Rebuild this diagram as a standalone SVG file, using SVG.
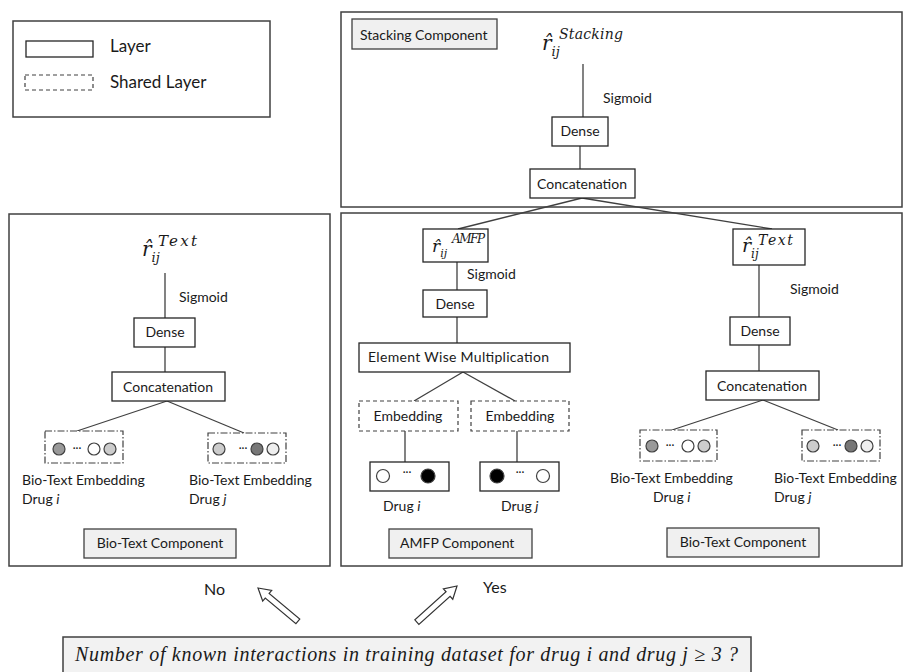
<svg xmlns="http://www.w3.org/2000/svg" width="905" height="672" viewBox="0 0 905 672">
<defs>
<style>
.frame{fill:#fff;stroke:#404040;stroke-width:1.5}
.box{fill:#fff;stroke:#262626;stroke-width:1.3}
.lbl{fill:#f0f0f0;stroke:#404040;stroke-width:1.3}
.shared{fill:#fff;stroke:#404040;stroke-width:1.2;stroke-dasharray:4 3}
.emb{fill:#fff;stroke:#404040;stroke-width:1.2;stroke-dasharray:7 2 1.5 2}
.t{font-family:Lato,"Liberation Sans",sans-serif;font-size:14px;fill:#1a1a1a}
.big{font-size:17px}
.yn{font-size:16px}
.m{font-family:"DejaVu Serif","Liberation Serif",serif;font-style:italic;fill:#1a1a1a}
.q{font-family:"Liberation Serif","DejaVu Serif",serif;font-style:italic;fill:#1a1a1a}
.c{stroke:#404040;stroke-width:1.2}
.dots{font-family:Lato,"Liberation Sans",sans-serif;font-size:11px;fill:#1a1a1a;text-anchor:middle}
.conn line{stroke:#404040;stroke-width:1.3}
.arrow{fill:#fff;stroke:#333;stroke-width:1.2;stroke-linejoin:miter}
</style>
</defs>
<rect width="905" height="672" fill="#fff"/>

<g id="legend">
<rect class="frame" x="13" y="21" width="257" height="96"/>
<rect class="box" x="26" y="41" width="67" height="16"/>
<text class="t big" x="110" y="52">Layer</text>
<rect class="shared" x="25" y="75" width="68" height="15"/>
<text class="t big" x="110" y="88">Shared Layer</text>
</g>

<g id="stacking-frame">
<rect class="frame" x="341" y="12" width="561" height="195"/>
</g>
<g id="biotext-left-frame">
<rect class="frame" x="9" y="214" width="321" height="352"/>
</g>
<g id="right-frame">
<rect class="frame" x="341" y="213" width="561" height="353"/>
</g>

<g class="conn" id="connectors">
<line x1="583" y1="64" x2="583" y2="117"/>
<line x1="580" y1="146" x2="580" y2="169"/>
<line x1="582" y1="198" x2="458" y2="229"/>
<line x1="582" y1="198" x2="772" y2="229"/>
<line x1="165" y1="273" x2="165" y2="318"/>
<line x1="165" y1="347" x2="165" y2="372"/>
<line x1="167" y1="401" x2="77" y2="431"/>
<line x1="167" y1="401" x2="244" y2="433"/>
<line x1="457" y1="262" x2="457" y2="290"/>
<line x1="457" y1="317" x2="457" y2="343"/>
<line x1="463" y1="372" x2="414" y2="401"/>
<line x1="463" y1="372" x2="515" y2="401"/>
<line x1="405" y1="431" x2="405" y2="462"/>
<line x1="517" y1="431" x2="517" y2="462"/>
<line x1="759" y1="265" x2="759" y2="317"/>
<line x1="759" y1="345" x2="759" y2="371"/>
<line x1="763" y1="400" x2="672" y2="430"/>
<line x1="763" y1="400" x2="838" y2="430"/>
</g>

<g id="stacking-label">
<rect class="lbl" x="352" y="19" width="145" height="30"/>
<text class="t" x="360" y="40">Stacking  Component</text>
</g>
<g id="r-stacking">
<text class="m" x="542" y="50"><tspan font-size="20">r̂</tspan><tspan font-size="13" dy="6">ij</tspan><tspan x="559" dy="-17" font-size="14" textLength="64">Stacking</tspan></text>
<text class="t" x="603" y="103">Sigmoid</text>
</g>
<g id="dense-stacking">
<rect class="box" x="552" y="117" width="56" height="29"/>
<text class="t" x="580" y="136" text-anchor="middle">Dense</text>
</g>
<g id="concat-stacking">
<rect class="box" x="530" y="169" width="105" height="29"/>
<text class="t" x="582" y="189" text-anchor="middle">Concatenation</text>
</g>

<g id="r-text-left">
<text class="m" x="142" y="256"><tspan font-size="20">r̂</tspan><tspan font-size="13" dy="6">ij</tspan><tspan x="158" dy="-16" font-size="15" textLength="39">Text</tspan></text>
<text class="t" x="179" y="302">Sigmoid</text>
</g>
<g id="dense-left">
<rect class="box" x="134" y="318" width="61" height="29"/>
<text class="t" x="165" y="337" text-anchor="middle">Dense</text>
</g>
<g id="concat-left">
<rect class="box" x="112" y="372" width="113" height="29"/>
<text class="t" x="168" y="392" text-anchor="middle">Concatenation</text>
</g>
<g id="emb-left-i">
<rect class="emb" x="45" y="431" width="78" height="32"/>
<circle class="c" cx="59" cy="449" r="6" fill="#999"/>
<text class="dots" x="77" y="452">···</text>
<circle class="c" cx="94" cy="449" r="6" fill="#fff"/>
<circle class="c" cx="110" cy="449" r="6" fill="#ccc"/>
<text class="t" x="22" y="485">Bio-Text Embedding</text>
<text class="t" x="22" y="504">Drug <tspan font-style="italic">i</tspan></text>
</g>
<g id="emb-left-j">
<rect class="emb" x="208" y="433" width="78" height="30"/>
<circle class="c" cx="219" cy="449" r="6" fill="#ccc"/>
<text class="dots" x="243" y="452">···</text>
<circle class="c" cx="257" cy="449" r="6" fill="#777"/>
<circle class="c" cx="273" cy="449" r="6" fill="#eee"/>
<text class="t" x="189" y="485">Bio-Text Embedding</text>
<text class="t" x="189" y="504">Drug <tspan font-style="italic">j</tspan></text>
</g>
<g id="biotext-left-label">
<rect class="lbl" x="84" y="529" width="152" height="29"/>
<text class="t" x="160" y="548" text-anchor="middle">Bio-Text Component</text>
</g>

<g id="r-amfp">
<rect class="box" x="423" y="229" width="65" height="33"/>
<text class="m" x="432" y="252"><tspan font-size="17">r̂</tspan><tspan font-size="11" dy="5">ij</tspan><tspan x="452" dy="-14" font-size="12" textLength="33">AMFP</tspan></text>
<text class="t" x="467" y="279">Sigmoid</text>
</g>
<g id="dense-amfp">
<rect class="box" x="423" y="290" width="64" height="27"/>
<text class="t" x="455" y="309" text-anchor="middle">Dense</text>
</g>
<g id="ewm">
<rect class="box" x="359" y="343" width="211" height="29"/>
<text class="t" x="368" y="362" textLength="181">Element Wise Multiplication</text>
</g>
<g id="embedding-i">
<rect class="shared" x="359" y="401" width="99" height="30"/>
<text class="t" x="408" y="421" text-anchor="middle">Embedding</text>
</g>
<g id="embedding-j">
<rect class="shared" x="471" y="401" width="98" height="30"/>
<text class="t" x="520" y="421" text-anchor="middle">Embedding</text>
</g>
<g id="drug-i">
<rect class="box" x="370" y="462" width="79" height="29"/>
<circle class="c" cx="383" cy="476" r="6.5" fill="#fff"/>
<text class="dots" x="407" y="476">···</text>
<circle class="c" cx="428" cy="476" r="7" fill="#000"/>
<text class="t" x="383" y="511">Drug <tspan font-style="italic">i</tspan></text>
</g>
<g id="drug-j">
<rect class="box" x="480" y="462" width="79" height="29"/>
<circle class="c" cx="497" cy="476" r="7" fill="#000"/>
<text class="dots" x="520" y="476">···</text>
<circle class="c" cx="543" cy="476" r="6.5" fill="#fff"/>
<text class="t" x="501" y="511">Drug <tspan font-style="italic">j</tspan></text>
</g>
<g id="amfp-label">
<rect class="lbl" x="389" y="529" width="143" height="29"/>
<text class="t" x="400" y="548">AMFP  Component</text>
</g>

<g id="r-text-right">
<rect class="box" x="733" y="229" width="72" height="36"/>
<text class="m" x="742" y="252"><tspan font-size="19">r̂</tspan><tspan font-size="12" dy="6">ij</tspan><tspan x="758" dy="-13" font-size="14" textLength="35">Text</tspan></text>
<text class="t" x="790" y="294">Sigmoid</text>
</g>
<g id="dense-right">
<rect class="box" x="730" y="317" width="60" height="28"/>
<text class="t" x="760" y="336" text-anchor="middle">Dense</text>
</g>
<g id="concat-right">
<rect class="box" x="706" y="371" width="113" height="29"/>
<text class="t" x="762" y="391" text-anchor="middle">Concatenation</text>
</g>
<g id="emb-right-i">
<rect class="emb" x="640" y="430" width="77" height="31"/>
<circle class="c" cx="652" cy="446" r="6" fill="#999"/>
<text class="dots" x="670" y="449">···</text>
<circle class="c" cx="688" cy="446" r="6" fill="#fff"/>
<circle class="c" cx="704" cy="446" r="6" fill="#ccc"/>
<text class="t" x="610" y="483">Bio-Text Embedding</text>
<text class="t" x="653" y="502">Drug <tspan font-style="italic">i</tspan></text>
</g>
<g id="emb-right-j">
<rect class="emb" x="802" y="430" width="78" height="31"/>
<circle class="c" cx="813" cy="446" r="6" fill="#ccc"/>
<text class="dots" x="837" y="449">···</text>
<circle class="c" cx="851" cy="446" r="6" fill="#777"/>
<circle class="c" cx="867" cy="446" r="6" fill="#eee"/>
<text class="t" x="774" y="483">Bio-Text Embedding</text>
<text class="t" x="774" y="502">Drug <tspan font-style="italic">j</tspan></text>
</g>
<g id="biotext-right-label">
<rect class="lbl" x="667" y="528" width="152" height="29"/>
<text class="t" x="743" y="547" text-anchor="middle">Bio-Text Component</text>
</g>

<g id="decision">
<text class="t yn" x="204" y="595">No</text>
<polygon class="arrow" transform="translate(258,588) rotate(-50)" points="0,0 7,12 3,12 3,52 -3,52 -3,12 -7,12"/>
<polygon class="arrow" transform="translate(457,586) rotate(48)" points="0,0 7,12 3,12 3,54 -3,54 -3,12 -7,12"/>
<text class="t yn" x="483" y="593">Yes</text>
<rect x="63" y="637" width="688" height="40" fill="#f2f2f2" stroke="#404040" stroke-width="1.5"/>
<text class="q" x="75" y="661" font-size="20" textLength="663">Number of known interactions in training dataset for drug i and drug j ≥ 3 ?</text>
</g>
</svg>
